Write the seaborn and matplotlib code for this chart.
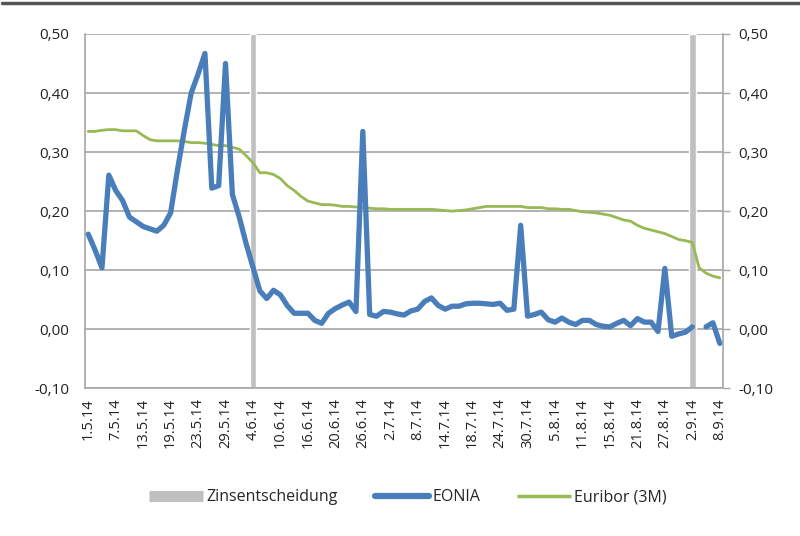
import numpy as np
import pandas as pd
import matplotlib
matplotlib.use("Agg")
import matplotlib.pyplot as plt
from matplotlib.lines import Line2D
import seaborn as sns

# business days 1.5.14 - 8.9.14
dates = pd.bdate_range("2014-05-01", "2014-09-08")
date_labels = [f"{d.day}.{d.month}.{d.year % 100}" for d in dates]

eonia = [0.161, 0.134, 0.104, 0.261, 0.235, 0.218, 0.190, 0.182, 0.174, 0.170,
         0.166, 0.176, 0.197, 0.270, 0.337, 0.400, 0.432, 0.467, 0.239, 0.243,
         0.450, 0.228, 0.190, 0.145, 0.105, 0.065, 0.052, 0.066, 0.058, 0.040,
         0.027, 0.027, 0.027, 0.015, 0.010, 0.027, 0.035, 0.041, 0.046, 0.030,
         0.335, 0.025, 0.022, 0.030, 0.029, 0.026, 0.024, 0.031, 0.034, 0.047,
         0.053, 0.040, 0.034, 0.039, 0.039, 0.043, 0.044, 0.044, 0.043, 0.042,
         0.044, 0.032, 0.034, 0.176, 0.022, 0.025, 0.029, 0.016, 0.012, 0.019,
         0.012, 0.008, 0.015, 0.015, 0.008, 0.005, 0.004, 0.010, 0.015, 0.006,
         0.018, 0.012, 0.012, -0.004, 0.103, -0.012, -0.008, -0.005, 0.004, np.nan,
         0.004, 0.011, -0.024]

euribor = [0.335, 0.335, 0.337, 0.338, 0.338, 0.336, 0.336, 0.336, 0.328, 0.321,
           0.319, 0.319, 0.319, 0.319, 0.318, 0.316, 0.316, 0.315, 0.313, 0.311,
           0.311, 0.308, 0.305, 0.294, 0.282, 0.265, 0.265, 0.262, 0.255, 0.243,
           0.235, 0.225, 0.217, 0.214, 0.211, 0.211, 0.210, 0.208, 0.208, 0.207,
           0.206, 0.205, 0.204, 0.204, 0.203, 0.203, 0.203, 0.203, 0.203, 0.203,
           0.203, 0.202, 0.201, 0.200, 0.201, 0.202, 0.204, 0.206, 0.208, 0.208,
           0.208, 0.208, 0.208, 0.208, 0.206, 0.206, 0.206, 0.204, 0.204, 0.203,
           0.203, 0.201, 0.199, 0.198, 0.197, 0.195, 0.193, 0.189, 0.185, 0.183,
           0.176, 0.171, 0.168, 0.165, 0.162, 0.157, 0.152, 0.150, 0.147, 0.104,
           0.095, 0.090, 0.087]

# ECB rate decisions (bar markers)
zins_dates = ["4.6.14", "2.9.14"]
zins_values = [0.50, 0.50]

df = pd.DataFrame({"pos": np.arange(len(dates)), "eonia": eonia, "euribor": euribor})
df["seg"] = df["eonia"].isna().cumsum()

blue = "#4a7ebb"
green = "#98b954"
bar_gray = "#c0c0c0"
grid_gray = "#a6a6a6"

sns.set_style("white")
plt.rcParams["font.family"] = ["Open Sans", "DejaVu Sans"]

fig = plt.figure(figsize=(8, 5.36), dpi=100)
ax = fig.add_axes([0.106, 0.2756, 0.798, 0.661])

ymin, ymax = -0.10, 0.50
zpos = [date_labels.index(d) for d in zins_dates]
ax.bar(zpos, [v - ymin for v in zins_values], bottom=ymin, width=1.0,
       color=bar_gray, zorder=2)

sns.lineplot(data=df.dropna(), x="pos", y="eonia", units="seg", estimator=None,
             color=blue, linewidth=3.8, ax=ax, zorder=4, legend=False)
sns.lineplot(data=df, x="pos", y="euribor", color=green, linewidth=2.0,
             ax=ax, zorder=3, legend=False)

ax.set_xlim(-0.5, len(dates) - 0.5)
ax.set_ylim(ymin, ymax)
yt = np.round(np.arange(ymin, ymax + 0.001, 0.1), 2)
ax.set_yticks(yt)
ylabels = [f"{v:.2f}".replace(".", ",") for v in yt]
ax.set_yticklabels(ylabels)
ax.yaxis.grid(True, color=grid_gray, linewidth=1.2)
ax.set_axisbelow(True)

ax.set_xticks(np.arange(0, len(dates), 4))
ax.set_xticklabels(date_labels[::4], rotation=90)
ax.set_xticks(np.arange(-0.5, len(dates), 1), minor=True)
ax.tick_params(axis="x", which="major", length=0, pad=7, labelsize=10.5, colors="#222222")
ax.tick_params(axis="x", which="minor", length=5, color=grid_gray, width=1)
ax.tick_params(axis="y", length=5, color=grid_gray, width=1, labelsize=11,
               colors="#222222", labelright=True, right=True, pad=6)
ax.set_xlabel("")
ax.set_ylabel("")
for s in ["left", "right", "bottom"]:
    ax.spines[s].set_color(grid_gray)
    ax.spines[s].set_linewidth(1.2)
ax.spines["top"].set_visible(False)

handles = [Line2D([], [], color=bar_gray, linewidth=8, solid_capstyle="butt"),
           Line2D([], [], color=blue, linewidth=4.5, solid_capstyle="round"),
           Line2D([], [], color=green, linewidth=2.5, solid_capstyle="butt")]
fig.legend(handles, ["Zinsentscheidung", "EONIA", "Euribor (3M)"],
           loc="center", bbox_to_anchor=(0.51, 0.072), ncol=3, frameon=False,
           fontsize=11.5, handlelength=3.4, handletextpad=0.2, columnspacing=2.3)

fig.add_artist(Line2D([0.003, 1.0], [0.994, 0.994], color="#555555", linewidth=2.5))

fig.savefig("out.png", dpi=100)
